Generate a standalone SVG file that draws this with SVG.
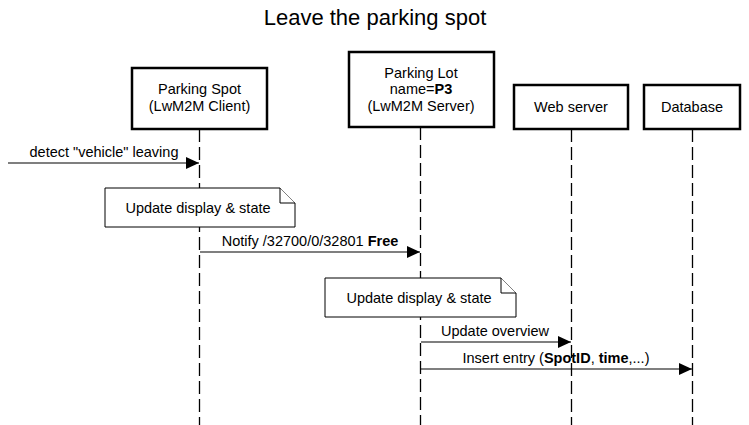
<svg xmlns="http://www.w3.org/2000/svg" width="749" height="425" viewBox="0 0 749 425">
  <style>
    text { font-family: "Liberation Sans", Arial, sans-serif; font-size: 14.5px; fill: #000; }
    .title { font-size: 22px; }
    .b { font-weight: bold; }
    .actor { fill: #fff; stroke: #000; stroke-width: 2.5; }
    .life { stroke: #000; stroke-width: 1.3; stroke-dasharray: 13 5; fill: none; }
    .msg { stroke: #000; stroke-width: 1.2; fill: none; marker-end: url(#arrow); }
    .note { fill: #fff; stroke: #000; stroke-width: 1; }
  </style>
  <defs>
    <marker id="arrow" viewBox="0 0 13 12" refX="13" refY="6" markerWidth="13" markerHeight="12" markerUnits="userSpaceOnUse" orient="auto">
      <path d="M0,0 L13,6 L0,12 Z" fill="#000"/>
    </marker>
  </defs>

  <rect width="749" height="425" fill="#fff"/>
  <text class="title" x="375" y="25" text-anchor="middle">Leave the parking spot</text>

  <!-- lifelines -->
  <g id="lifelines">
    <line class="life" x1="199.5" y1="129" x2="199.5" y2="425"/>
    <line class="life" x1="420.5" y1="127" x2="420.5" y2="425"/>
    <line class="life" x1="571.5" y1="129" x2="571.5" y2="425"/>
    <line class="life" x1="692.5" y1="129" x2="692.5" y2="425"/>
  </g>

  <g id="parking-spot">
    <rect class="actor" x="132" y="68" width="135" height="61"/>
    <text x="199.5" y="94" text-anchor="middle">Parking Spot</text>
    <text x="199.5" y="111" text-anchor="middle">(LwM2M Client)</text>
  </g>

  <g id="parking-lot">
    <rect class="actor" x="349" y="52" width="145" height="75"/>
    <text x="421" y="78" text-anchor="middle">Parking Lot</text>
    <text x="421" y="94" text-anchor="middle">name=<tspan class="b">P3</tspan></text>
    <text x="421" y="111" text-anchor="middle">(LwM2M Server)</text>
  </g>

  <g id="web-server">
    <rect class="actor" x="514" y="85" width="114" height="44"/>
    <text x="571" y="112" text-anchor="middle">Web server</text>
  </g>

  <g id="database">
    <rect class="actor" x="644" y="85" width="96" height="44"/>
    <text x="692" y="112" text-anchor="middle">Database</text>
  </g>

  <!-- messages -->
  <g id="connectors">
    <line class="msg" x1="8" y1="163" x2="199" y2="163"/>
    <text x="104" y="157" text-anchor="middle">detect "vehicle" leaving</text>

    <line class="msg" x1="200" y1="252" x2="420" y2="252"/>
    <text x="310" y="246" text-anchor="middle">Notify /32700/0/32801 <tspan class="b">Free</tspan></text>

    <line class="msg" x1="421" y1="342" x2="571" y2="342"/>
    <text x="495" y="336" text-anchor="middle">Update overview</text>

    <line class="msg" x1="421" y1="369" x2="692" y2="369"/>
    <text x="556" y="363" text-anchor="middle">Insert entry (<tspan class="b">SpotID</tspan>, <tspan class="b">time</tspan>,...)</text>
  </g>

  <!-- notes -->
  <g id="note-spot">
    <path class="note" d="M105,188 H280 L295,203 V227 H105 Z"/>
    <path class="note" d="M280,188 V203 H295"/>
    <text x="198" y="213" text-anchor="middle">Update display &amp; state</text>
  </g>

  <g id="note-lot">
    <path class="note" d="M325,278 H501 L516,293 V317 H325 Z"/>
    <path class="note" d="M501,278 V293 H516"/>
    <text x="419" y="303" text-anchor="middle">Update display &amp; state</text>
  </g>
</svg>
